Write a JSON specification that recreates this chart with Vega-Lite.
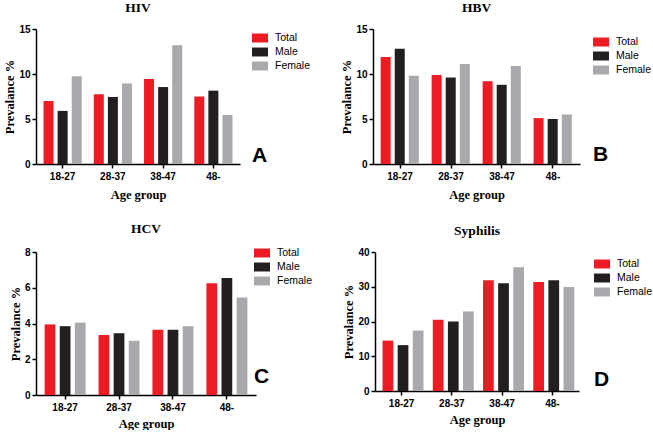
{
  "$schema": "https://vega.github.io/schema/vega-lite/v6.json",
  "padding": {"left": 3, "top": 0, "right": 0, "bottom": 0},
  "background": "white",
  "config": {
    "view": {"stroke": null},
    "axis": {
      "grid": false,
      "domainColor": "#000000",
      "domainWidth": 1.5,
      "tickColor": "#000000",
      "tickWidth": 1.5,
      "tickSize": 4,
      "labelFont": "Liberation Sans",
      "labelFontWeight": "bold",
      "labelFontSize": 10,
      "labelColor": "#000000",
      "labelPadding": 2,
      "titleFont": "Liberation Serif",
      "titleFontWeight": "bold",
      "titleFontSize": 12.5,
      "titleColor": "#000000"
    },
    "axisX": {"labelAngle": 0, "titlePadding": 7, "labelPadding": 3},
    "axisY": {"titlePadding": 2},
    "title": {"font": "Liberation Serif", "fontWeight": "bold", "fontSize": 13.5, "color": "#000000", "frame": "group", "anchor": "middle"},
    "legend": {
      "orient": "none",
      "padding": 0,
      "symbolType": "M-1,-0.56H1V0.56H-1Z",
      "symbolSize": 256,
      "symbolStrokeWidth": 0,
      "labelFont": "Liberation Sans",
      "labelFontSize": 10.5,
      "labelColor": "#000000",
      "labelOffset": 7,
      "rowPadding": 0,
      "titleOrient": "bottom",
      "titleFont": "Liberation Sans",
      "titleFontWeight": "bold",
      "titleFontSize": 21,
      "titleColor": "#000000",
      "titleAnchor": "start",
      "titlePadding": 73
    },
    "concat": {"spacing": 29}
  },
  "data": {
    "values": [
      {"panel": "HIV", "age": "18-27", "sex": "Total", "value": 7.0},
      {"panel": "HIV", "age": "18-27", "sex": "Male", "value": 5.9},
      {"panel": "HIV", "age": "18-27", "sex": "Female", "value": 9.75},
      {"panel": "HIV", "age": "28-37", "sex": "Total", "value": 7.75},
      {"panel": "HIV", "age": "28-37", "sex": "Male", "value": 7.45},
      {"panel": "HIV", "age": "28-37", "sex": "Female", "value": 8.95},
      {"panel": "HIV", "age": "38-47", "sex": "Total", "value": 9.45},
      {"panel": "HIV", "age": "38-47", "sex": "Male", "value": 8.55},
      {"panel": "HIV", "age": "38-47", "sex": "Female", "value": 13.2},
      {"panel": "HIV", "age": "48-", "sex": "Total", "value": 7.5},
      {"panel": "HIV", "age": "48-", "sex": "Male", "value": 8.15},
      {"panel": "HIV", "age": "48-", "sex": "Female", "value": 5.45},
      {"panel": "HBV", "age": "18-27", "sex": "Total", "value": 11.9},
      {"panel": "HBV", "age": "18-27", "sex": "Male", "value": 12.8},
      {"panel": "HBV", "age": "18-27", "sex": "Female", "value": 9.8},
      {"panel": "HBV", "age": "28-37", "sex": "Total", "value": 9.9},
      {"panel": "HBV", "age": "28-37", "sex": "Male", "value": 9.6},
      {"panel": "HBV", "age": "28-37", "sex": "Female", "value": 11.1},
      {"panel": "HBV", "age": "38-47", "sex": "Total", "value": 9.2},
      {"panel": "HBV", "age": "38-47", "sex": "Male", "value": 8.8},
      {"panel": "HBV", "age": "38-47", "sex": "Female", "value": 10.9},
      {"panel": "HBV", "age": "48-", "sex": "Total", "value": 5.1},
      {"panel": "HBV", "age": "48-", "sex": "Male", "value": 5.0},
      {"panel": "HBV", "age": "48-", "sex": "Female", "value": 5.5},
      {"panel": "HCV", "age": "18-27", "sex": "Total", "value": 3.95},
      {"panel": "HCV", "age": "18-27", "sex": "Male", "value": 3.85},
      {"panel": "HCV", "age": "18-27", "sex": "Female", "value": 4.05},
      {"panel": "HCV", "age": "28-37", "sex": "Total", "value": 3.35},
      {"panel": "HCV", "age": "28-37", "sex": "Male", "value": 3.45},
      {"panel": "HCV", "age": "28-37", "sex": "Female", "value": 3.03},
      {"panel": "HCV", "age": "38-47", "sex": "Total", "value": 3.65},
      {"panel": "HCV", "age": "38-47", "sex": "Male", "value": 3.65},
      {"panel": "HCV", "age": "38-47", "sex": "Female", "value": 3.85},
      {"panel": "HCV", "age": "48-", "sex": "Total", "value": 6.25},
      {"panel": "HCV", "age": "48-", "sex": "Male", "value": 6.55},
      {"panel": "HCV", "age": "48-", "sex": "Female", "value": 5.45},
      {"panel": "Syphilis", "age": "18-27", "sex": "Total", "value": 14.5},
      {"panel": "Syphilis", "age": "18-27", "sex": "Male", "value": 13.2},
      {"panel": "Syphilis", "age": "18-27", "sex": "Female", "value": 17.4},
      {"panel": "Syphilis", "age": "28-37", "sex": "Total", "value": 20.5},
      {"panel": "Syphilis", "age": "28-37", "sex": "Male", "value": 20.0},
      {"panel": "Syphilis", "age": "28-37", "sex": "Female", "value": 22.9},
      {"panel": "Syphilis", "age": "38-47", "sex": "Total", "value": 31.9},
      {"panel": "Syphilis", "age": "38-47", "sex": "Male", "value": 31.0},
      {"panel": "Syphilis", "age": "38-47", "sex": "Female", "value": 35.6},
      {"panel": "Syphilis", "age": "48-", "sex": "Total", "value": 31.4},
      {"panel": "Syphilis", "age": "48-", "sex": "Male", "value": 31.9},
      {"panel": "Syphilis", "age": "48-", "sex": "Female", "value": 29.9}
    ]
  },
  "resolve": {"scale": {"color": "independent", "y": "independent", "x": "independent", "xOffset": "independent"}, "legend": {"color": "independent"}},
  "spacing": 20,
  "vconcat": [
    {
      "hconcat": [
        {
          "title": {"text": "HIV", "offset": 10},
          "width": 204, "height": 135,
          "transform": [{"filter": "datum.panel == 'HIV'"}],
          "mark": {"type": "bar"},
          "encoding": {
            "x": {"field": "age", "type": "nominal", "sort": ["18-27", "28-37", "38-47", "48-"], "scale": {"paddingInner": 0.24, "paddingOuter": 0.15}, "axis": {"title": "Age group"}},
            "xOffset": {"field": "sex", "type": "nominal", "sort": ["Total", "Male", "Female"], "scale": {"paddingInner": 0.29, "paddingOuter": 0}},
            "y": {"field": "value", "type": "quantitative", "scale": {"domain": [0, 15], "nice": false}, "axis": {"title": "Prevalance %", "values": [0, 5, 10, 15]}},
            "color": {"field": "sex", "type": "nominal", "scale": {"domain": ["Total", "Male", "Female"], "range": ["#ED1C24", "#231F20", "#A7A9AC"]}, "legend": {"title": "A", "legendX": 216, "legendY": 1}}
          }
        },
        {
          "title": {"text": "HBV", "offset": 10},
          "width": 207, "height": 135,
          "transform": [{"filter": "datum.panel == 'HBV'"}],
          "mark": {"type": "bar"},
          "encoding": {
            "x": {"field": "age", "type": "nominal", "sort": ["18-27", "28-37", "38-47", "48-"], "scale": {"paddingInner": 0.24, "paddingOuter": 0.15}, "axis": {"title": "Age group"}},
            "xOffset": {"field": "sex", "type": "nominal", "sort": ["Total", "Male", "Female"], "scale": {"paddingInner": 0.29, "paddingOuter": 0}},
            "y": {"field": "value", "type": "quantitative", "scale": {"domain": [0, 15], "nice": false}, "axis": {"title": "Prevalance %", "values": [0, 5, 10, 15]}},
            "color": {"field": "sex", "type": "nominal", "scale": {"domain": ["Total", "Male", "Female"], "range": ["#ED1C24", "#231F20", "#A7A9AC"]}, "legend": {"title": "B", "legendX": 220, "legendY": 5, "titlePadding": 68}}
          }
        }
      ],
      "resolve": {"scale": {"color": "independent"}, "legend": {"color": "independent"}}
    },
    {
      "hconcat": [
        {
          "title": {"text": "HCV", "offset": 10},
          "width": 220, "height": 143,
          "transform": [{"filter": "datum.panel == 'HCV'"}],
          "mark": {"type": "bar"},
          "encoding": {
            "x": {"field": "age", "type": "nominal", "sort": ["18-27", "28-37", "38-47", "48-"], "scale": {"paddingInner": 0.24, "paddingOuter": 0.16}, "axis": {"title": "Age group", "titlePadding": 5}},
            "xOffset": {"field": "sex", "type": "nominal", "sort": ["Total", "Male", "Female"], "scale": {"paddingInner": 0.29, "paddingOuter": 0}},
            "y": {"field": "value", "type": "quantitative", "scale": {"domain": [0, 8], "nice": false}, "axis": {"title": "Prevalance %", "values": [0, 2, 4, 6, 8]}},
            "color": {"field": "sex", "type": "nominal", "scale": {"domain": ["Total", "Male", "Female"], "range": ["#ED1C24", "#231F20", "#A7A9AC"]}, "legend": {"title": "C", "legendX": 218, "legendY": -7, "titlePadding": 79}}
          }
        },
        {
          "title": {"text": "Syphilis", "offset": 10},
          "width": 204, "height": 139,
          "transform": [{"filter": "datum.panel == 'Syphilis'"}],
          "mark": {"type": "bar"},
          "encoding": {
            "x": {"field": "age", "type": "nominal", "sort": ["18-27", "28-37", "38-47", "48-"], "scale": {"paddingInner": 0.24, "paddingOuter": 0.15}, "axis": {"title": "Age group", "titlePadding": 5}},
            "xOffset": {"field": "sex", "type": "nominal", "sort": ["Total", "Male", "Female"], "scale": {"paddingInner": 0.29, "paddingOuter": 0}},
            "y": {"field": "value", "type": "quantitative", "scale": {"domain": [0, 40], "nice": false}, "axis": {"title": "Prevalance %", "values": [0, 10, 20, 30, 40]}},
            "color": {"field": "sex", "type": "nominal", "scale": {"domain": ["Total", "Male", "Female"], "range": ["#ED1C24", "#231F20", "#A7A9AC"]}, "legend": {"title": "D", "legendX": 219, "legendY": 4, "titlePadding": 71}}
          }
        }
      ],
      "resolve": {"scale": {"color": "independent"}, "legend": {"color": "independent"}}
    }
  ]
}
